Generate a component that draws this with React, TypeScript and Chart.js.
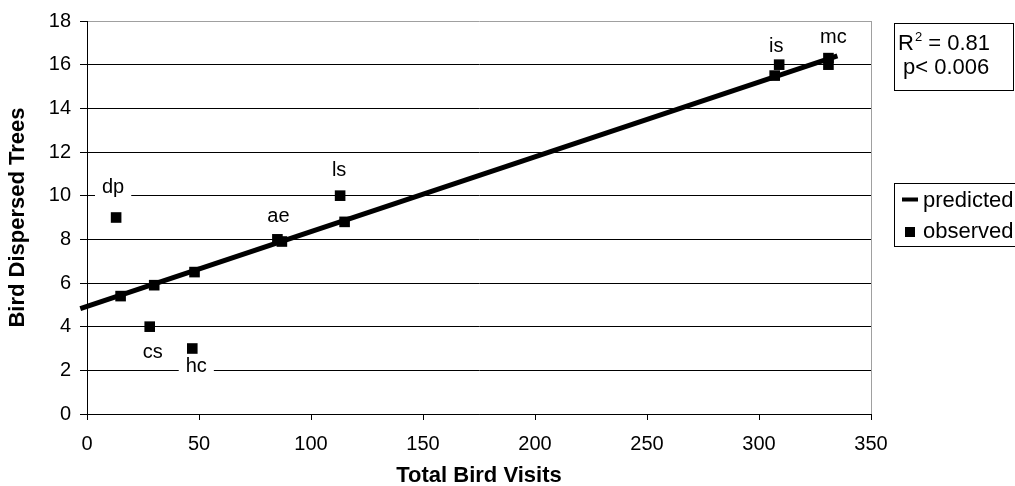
import React, { useEffect, useRef } from 'react';
import { Chart, registerables } from 'chart.js';

Chart.register(...registerables);

const FONT = "'Liberation Sans', Arial, sans-serif";

// ---- data ----
const siteNames = ['dp', 'cs', 'hc', 'ae', 'ls', 'is', 'mc'];
const observedVisits = [13, 28, 47, 85, 113, 309, 331];
const observedTrees = [9, 4, 3, 8, 10, 16, 16];
const predictedVisits = [15, 30, 48, 87, 115, 307, 331];
const predictedTrees = [5.4, 5.9, 6.5, 7.9, 8.8, 15.5, 16.3];
const trendVisits = [-3, 335];
const trendTrees = [4.83, 16.4];
const xTickValues = [0, 50, 100, 150, 200, 250, 300, 350];
const yTickValues = [0, 2, 4, 6, 8, 10, 12, 14, 16, 18];
const rSquared = '0.81';
const pValue = '0.006';
const seriesNames = ['predicted', 'observed'];

// ---- label placement (style, pixels relative to the observed point) ----
const labelOffsets: [number, number][] = [
  [-3, -30],
  [3, 26],
  [4, 18],
  [1, -23],
  [-1, -25],
  [-3, -18],
  [5, -27],
];

const annotate = {
  id: 'annotate',
  beforeDatasetsDraw(chart: any) {
    const ctx = chart.ctx;
    const meta = chart.getDatasetMeta(0);
    ctx.save();
    ctx.font = `20px ${FONT}`;
    ctx.textAlign = 'center';
    ctx.textBaseline = 'middle';
    meta.data.forEach((pt: any, i: number) => {
      const [dx, dy] = labelOffsets[i];
      const x = pt.x + dx;
      const y = pt.y + dy;
      const w = ctx.measureText(siteNames[i]).width + 14;
      ctx.fillStyle = '#fff';
      ctx.fillRect(x - w / 2, y - 11, w, 22);
      ctx.fillStyle = '#000';
      ctx.fillText(siteNames[i], x, y);
    });
    ctx.restore();
  },
  afterDraw(chart: any) {
    const ctx = chart.ctx;
    const area = chart.chartArea;
    const bx = area.right + 23.5;
    ctx.save();
    ctx.strokeStyle = '#000';
    ctx.lineWidth = 1;
    ctx.fillStyle = '#000';
    ctx.textAlign = 'left';
    ctx.textBaseline = 'alphabetic';

    // statistics box
    ctx.strokeRect(bx, 23.5, 119, 67);
    ctx.font = `22px ${FONT}`;
    const tx = bx + 3.5;
    ctx.fillText('R', tx, 50);
    let x = tx + ctx.measureText('R').width + 1;
    ctx.font = `13px ${FONT}`;
    ctx.fillText('2', x, 41);
    x += ctx.measureText('2').width;
    ctx.font = `22px ${FONT}`;
    ctx.fillText(' = ' + rSquared, x, 50);
    ctx.fillText('p< ' + pValue, tx + 5, 74);

    // legend box
    ctx.strokeRect(bx, 183.5, 140, 63);
    ctx.fillRect(bx + 7.5, 197.5, 16, 4);
    ctx.fillRect(bx + 10.5, 227, 10, 10);
    ctx.font = `22px ${FONT}`;
    ctx.fillText(seriesNames[0], bx + 28.5, 206.5);
    ctx.fillText(seriesNames[1], bx + 28.5, 238);
    ctx.restore();
  },
};

export default function App() {
  const ref = useRef<HTMLCanvasElement | null>(null);

  useEffect(() => {
    if (!ref.current) return;
    const chart = new Chart(ref.current, {
      type: 'scatter',
      data: {
        datasets: [
          {
            label: seriesNames[1],
            data: observedVisits.map((v, i) => ({ x: v, y: observedTrees[i] })),
            pointStyle: 'rect',
            pointRadius: 7.5,
            pointBackgroundColor: '#000',
            pointBorderWidth: 0,
            order: 0,
          },
          {
            label: seriesNames[0],
            data: predictedVisits.map((v, i) => ({ x: v, y: predictedTrees[i] })),
            pointStyle: 'rect',
            pointRadius: 7.5,
            pointBackgroundColor: '#000',
            pointBorderWidth: 0,
            order: 2,
          },
          {
            label: 'trend',
            data: trendVisits.map((v, i) => ({ x: v, y: trendTrees[i] })),
            showLine: true,
            borderColor: '#000',
            borderWidth: 5,
            pointRadius: 0,
            clip: false as any,
            order: 1,
          } as any,
        ],
      },
      options: {
        animation: false,
        responsive: false,
        devicePixelRatio: 1,
        events: [],
        layout: { padding: { top: 21, right: 144, left: 0, bottom: 0 } },
        plugins: { legend: { display: false }, tooltip: { enabled: false } },
        scales: {
          x: {
            type: 'linear',
            min: xTickValues[0],
            max: xTickValues[xTickValues.length - 1],
            afterBuildTicks: (s: any) => {
              s.ticks = xTickValues.map((v) => ({ value: v }));
            },
            ticks: {
              color: '#000',
              font: { size: 20, family: FONT },
              padding: 12,
              maxRotation: 0,
            },
            grid: {
              drawOnChartArea: true,
              color: (c: any) =>
                c.tick && c.tick.value === xTickValues[xTickValues.length - 1]
                  ? '#a0a0a0'
                  : 'rgba(0,0,0,0)',
              tickColor: '#000',
              tickLength: 6,
              lineWidth: 1,
            },
            border: { color: '#000', width: 1 },
            title: {
              display: true,
              text: 'Total Bird Visits',
              color: '#000',
              font: { size: 22, weight: 'bold', family: FONT },
              padding: { top: 0, bottom: -3 },
            },
            afterFit: (s: any) => {
              s.height = 72;
            },
          },
          y: {
            type: 'linear',
            min: yTickValues[0],
            max: yTickValues[yTickValues.length - 1],
            afterBuildTicks: (s: any) => {
              s.ticks = yTickValues.map((v) => ({ value: v }));
            },
            ticks: {
              color: '#000',
              font: { size: 20, family: FONT },
              padding: 9,
            },
            grid: {
              color: (c: any) =>
                c.tick && c.tick.value === yTickValues[yTickValues.length - 1]
                  ? '#a0a0a0'
                  : '#000',
              tickColor: '#000',
              tickLength: 7,
              lineWidth: 1,
            },
            border: { color: '#000', width: 1 },
            title: {
              display: true,
              text: 'Bird Dispersed Trees',
              color: '#000',
              font: { size: 22, weight: 'bold', family: FONT },
              padding: { top: 5, bottom: 0 },
            },
            afterFit: (s: any) => {
              s.width = 87;
            },
          },
        },
      } as any,
      plugins: [annotate],
    });
    return () => chart.destroy();
  }, []);

  return (
    <div
      style={{
        position: 'fixed',
        left: 0,
        top: 0,
        width: 1015,
        height: 486,
        background: '#fff',
      }}
    >
      <canvas ref={ref} width={1015} height={486} style={{ display: 'block' }} />
    </div>
  );
}
